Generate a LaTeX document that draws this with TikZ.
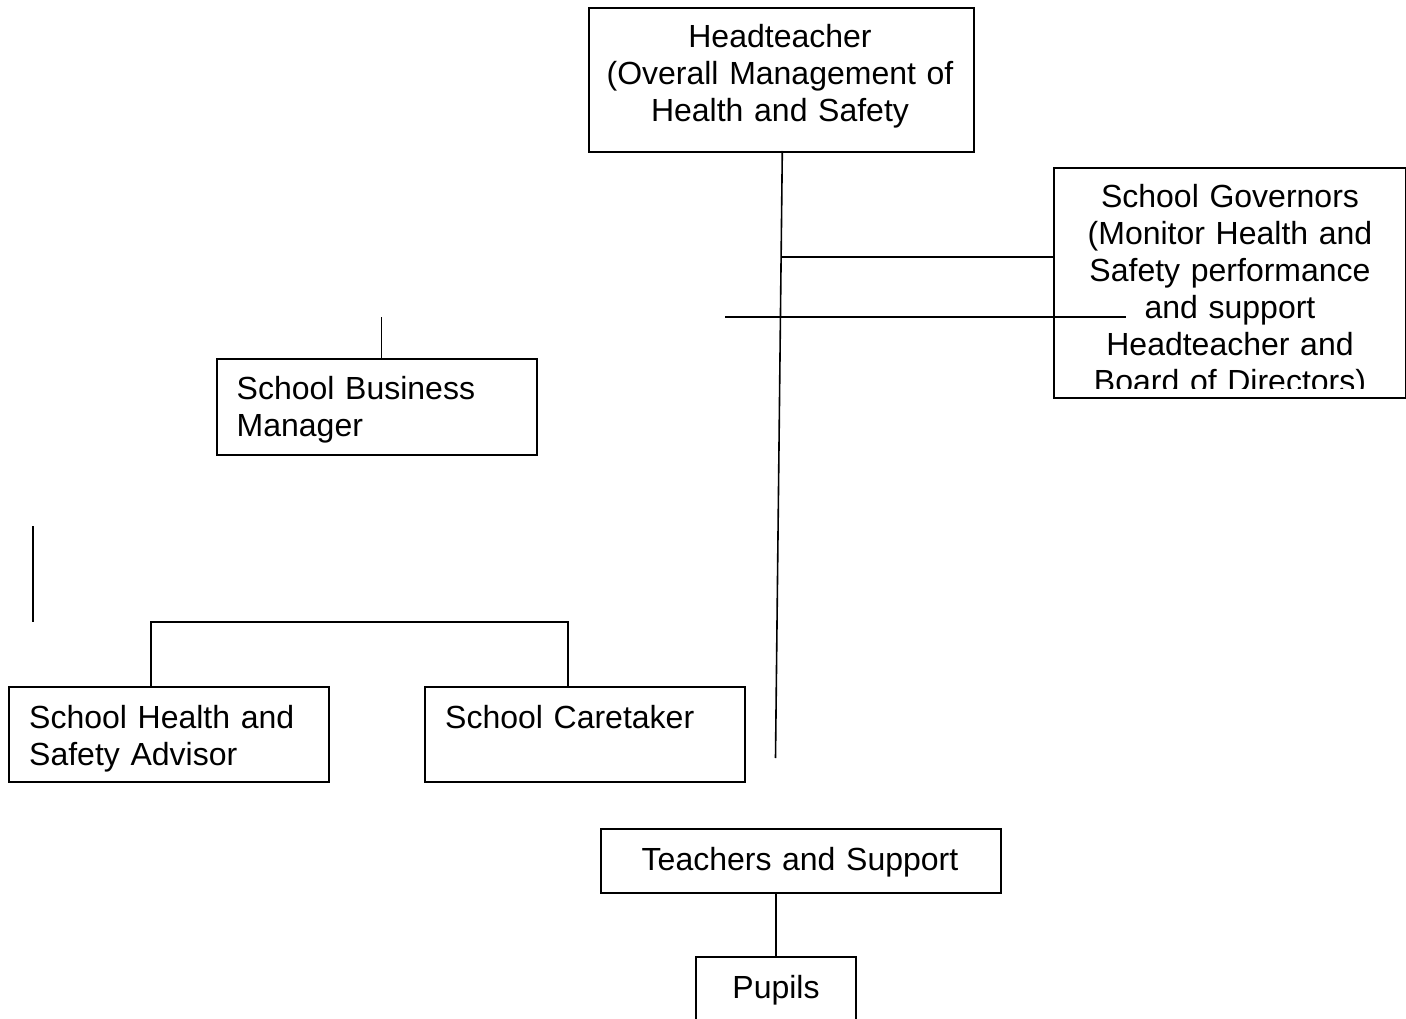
\documentclass[tikz,border=0pt]{standalone}
\usepackage{fontspec}
\setmainfont{Liberation Sans}
\begin{document}
\begin{tikzpicture}[x=1pt,y=-1pt,
  box/.style={draw=black, line width=1.6pt, rectangle, inner sep=0pt, anchor=north west},
  conn/.style={draw=black, line width=1.6pt},
  ctext/.style={anchor=base, inner sep=0pt, align=center, text width=400pt, font=\fontsize{32}{37}\selectfont},
  ltext/.style={anchor=base west, inner sep=0pt, align=left, text width=300pt, font=\fontsize{32}{37}\selectfont}]
\useasboundingbox (0,0) rectangle (1406,1019);
% boxes
\node[box, minimum width=385pt, minimum height=144pt] (head) at (588,7) {};
\node[box, minimum width=351.5pt, minimum height=230pt] (gov) at (1053,167) {};
\node[box, minimum width=320pt, minimum height=96pt] (sbm) at (216,358) {};
\node[box, minimum width=320pt, minimum height=95pt] (hsa) at (8,686) {};
\node[box, minimum width=320pt, minimum height=95pt] (care) at (424,686) {};
\node[box, minimum width=400pt, minimum height=64pt] (teach) at (600,828) {};
% pupils box: no bottom border visible
\coordinate (pupTL) at (696,957);
\coordinate (pupTR) at (856,957);
\draw[conn] (696,1025) -- (pupTL) -- (pupTR) -- (856,1025);
% texts
\node[ctext] (headtxt) at (780,48) {Headteacher\\(Overall Management of\\Health and Safety};
\begin{scope}
\clip (1054,168) rectangle (1404,388);
\node[ctext] (govtxt) at (1230,208) {School Governors\\(Monitor Health and\\Safety performance\\and support\\Headteacher and\\Board of Directors)};
\end{scope}
\node[ltext] (sbmtxt) at (236.5,399) {School Business\\Manager};
\node[ltext] (hsatxt) at (29,728) {School Health and\\Safety Advisor};
\node[ltext] (caretxt) at (445,728) {School Caretaker};
\node[ctext] (teachtxt) at (800,870) {Teachers and Support};
\node[ctext] (puptxt) at (776,998) {Pupils};
% connectors
\coordinate (mainbot) at (775.5,758);
\coordinate (j1) at (781.5,257);
\coordinate (j2l) at (725,317);
\coordinate (j2r) at (1126,317);
\coordinate (sbmtop) at (381.3,317);
\coordinate (leftA) at (33,526);
\coordinate (leftB) at (33,622);
\coordinate (brL) at (151,622);
\coordinate (brR) at (568,622);
\draw[conn] (782.3,151) coordinate (headbot) -- (mainbot);
\draw[conn] (j1) -- (j1 -| gov.west);
\draw[conn] (j2l) -- (j2r);
\draw[conn] (sbmtop) -- (sbmtop |- sbm.north);
\draw[conn] (leftA) -- (leftB);
\draw[conn] (brL |- hsa.north) -- (brL) -- (brR) -- (brR |- care.north);
\draw[conn] (776,892) coordinate (tb) -- (tb |- pupTL);
\end{tikzpicture}
\end{document}
